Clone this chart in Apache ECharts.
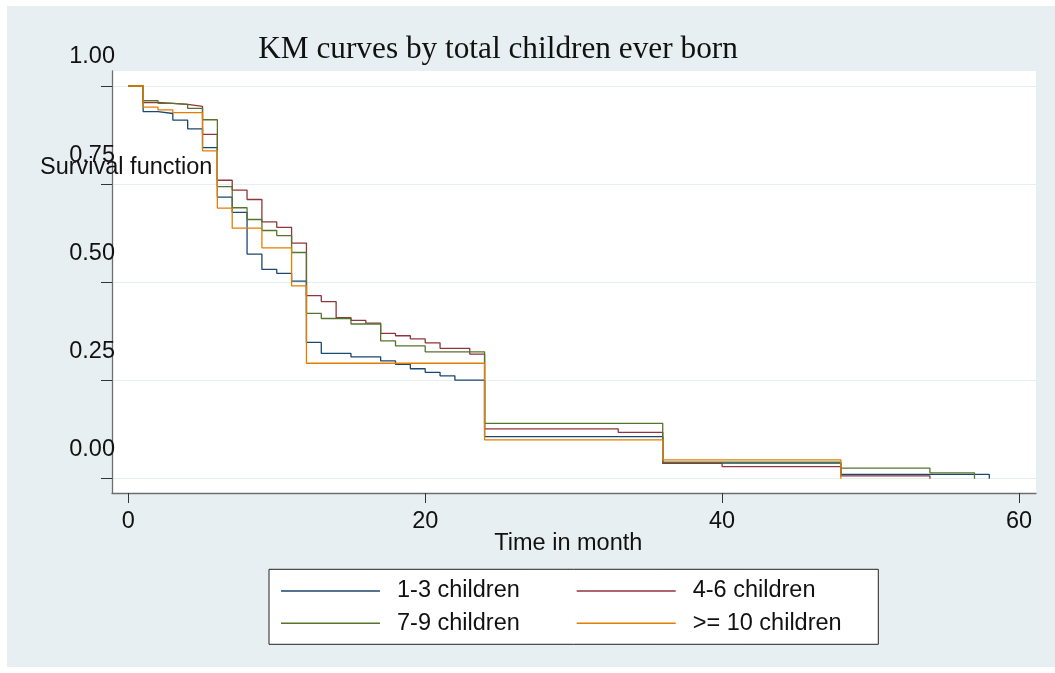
<!DOCTYPE html>
<html>
<head>
<meta charset="utf-8">
<script src="https://cdn.jsdelivr.net/npm/echarts@6/dist/echarts.min.js"></script>
<style>
  html, body { margin: 0; padding: 0; background: #ffffff; }
  #chart { width: 1055px; height: 673px; }
</style>
</head>
<body>
<div id="chart"></div>
<script>
// Kaplan-Meier survival estimates by number of children ever born
const groupNames = ['1-3 children', '4-6 children', '7-9 children', '>= 10 children'];

const timesG1 = [0, 1, 2, 3, 4, 5, 6, 7, 8, 9, 10, 11, 12, 13, 15, 17, 18, 19, 20, 21, 22, 24, 36, 48, 58];
const survG1  = [1.000, 0.935, 0.930, 0.913, 0.891, 0.843, 0.717, 0.678, 0.572, 0.533, 0.523, 0.503,
                 0.347, 0.319, 0.310, 0.300, 0.291, 0.280, 0.271, 0.262, 0.251, 0.107, 0.040, 0.011, 0.000];

const timesG2 = [0, 1, 2, 3, 4, 5, 6, 7, 8, 9, 10, 11, 12, 13, 14, 15, 16, 17, 18, 19, 20, 21, 23, 24, 33, 36, 40, 48, 54];
const survG2  = [1.000, 0.958, 0.956, 0.953, 0.948, 0.877, 0.760, 0.735, 0.711, 0.654, 0.640, 0.600,
                 0.466, 0.451, 0.410, 0.403, 0.396, 0.370, 0.364, 0.356, 0.346, 0.332, 0.317, 0.127,
                 0.118, 0.039, 0.031, 0.007, 0.000];

const timesG3 = [0, 1, 2, 3, 4, 5, 6, 7, 8, 9, 10, 11, 12, 13, 15, 17, 18, 20, 24, 36, 48, 54, 57];
const survG3  = [1.000, 0.963, 0.956, 0.953, 0.943, 0.914, 0.744, 0.690, 0.660, 0.632, 0.619, 0.576,
                 0.421, 0.408, 0.394, 0.351, 0.338, 0.323, 0.141, 0.042, 0.027, 0.015, 0.000];

const timesG4 = [0, 1, 2, 3, 5, 6, 7, 9, 11, 12, 24, 36, 48];
const survG4  = [1.000, 0.946, 0.939, 0.932, 0.835, 0.689, 0.638, 0.588, 0.491, 0.294, 0.099, 0.048, 0.000];

const xTicks = [0, 20, 40, 60];
const yTicks = [0, 0.25, 0.5, 0.75, 1];

const groupColors = ['#1a476f', '#90353b', '#55752f', '#e37e00'];
const groupTimes = [timesG1, timesG2, timesG3, timesG4];
const groupSurv = [survG1, survG2, survG3, survG4];

const sans = '"Liberation Sans", Arial, sans-serif';
const serif = '"Liberation Serif", "Times New Roman", serif';

const chart = echarts.init(document.getElementById('chart'), null, { renderer: 'canvas' });

const series = groupNames.map((name, i) => ({
  name: name,
  type: 'line',
  step: 'end',
  symbol: 'none',
  color: groupColors[i],
  lineStyle: { width: 1.3, color: groupColors[i] },
  data: groupTimes[i].map((t, k) => [t, groupSurv[i][k]]),
  z: 2 + i
}));

chart.setOption({
  animation: false,
  backgroundColor: '#ffffff',
  title: {
    text: 'KM curves by total children ever born',
    left: 498,
    top: 34,
    textAlign: 'center',
    padding: 0,
    textStyle: { fontFamily: serif, fontSize: 31.3, fontWeight: 'normal', color: '#111111' }
  },
  graphic: [
    {
      type: 'rect', z: -10, silent: true,
      shape: { x: 7, y: 6, width: 1048, height: 661 },
      style: { fill: '#e8eff2' }
    },
    {
      type: 'text', x: 40, y: 168, z: 10,
      style: { text: 'Survival function', fontFamily: sans, fontSize: 23.5, fill: '#111111',
               align: 'left', verticalAlign: 'middle' }
    },
    {
      type: 'text', x: 568.3, y: 543.3, z: 10,
      style: { text: 'Time in month', fontFamily: sans, fontSize: 23.5, fill: '#111111',
               align: 'center', verticalAlign: 'middle' }
    }
  ],
  legend: {
    data: groupNames,
    left: 269,
    top: 569.3,
    width: 590,
    orient: 'horizontal',
    padding: [9.7, 14.2, 9, 12],
    itemGap: 8.3,
    itemWidth: 99,
    itemHeight: 1.5,
    icon: 'rect',
    borderColor: '#222222',
    borderWidth: 1,
    backgroundColor: '#ffffff',
    textStyle: { fontFamily: sans, fontSize: 23.5, color: '#111111', width: 171.4,
                 lineHeight: 24, padding: [0, 0, 0, 12] }
  },
  grid: {
    left: 112, top: 71, right: 19, bottom: 180,
    show: true, backgroundColor: '#ffffff', borderWidth: 0
  },
  xAxis: {
    type: 'value',
    min: -1.098,
    max: 61.145,
    axisLine: { show: true, onZero: false, lineStyle: { color: '#6e6e6e', width: 1.3 } },
    axisTick: { show: true, customValues: xTicks, length: 10, lineStyle: { color: '#333333' } },
    axisLabel: { customValues: xTicks, margin: 17, fontFamily: sans, fontSize: 23.5, color: '#111111' },
    splitLine: { show: false }
  },
  yAxis: {
    type: 'value',
    min: -0.0364,
    max: 1.0382,
    axisLine: { show: true, onZero: false, lineStyle: { color: '#6e6e6e', width: 1.3 } },
    axisTick: { show: true, customValues: yTicks, length: 11, lineStyle: { color: '#333333' } },
    axisLabel: {
      customValues: yTicks, margin: -3, color: '#111111',
      // labels are raised above their tick marks
      formatter: v => '{v|' + v.toFixed(2) + '}',
      rich: {
        v: { fontFamily: sans, fontSize: 23.5, color: '#111111', padding: [0, 0, 58, 0] }
      }
    },
    splitLine: { show: true, lineStyle: { color: '#e6eef0', width: 1 } }
  },
  series: series
});
</script>
</body>
</html>
